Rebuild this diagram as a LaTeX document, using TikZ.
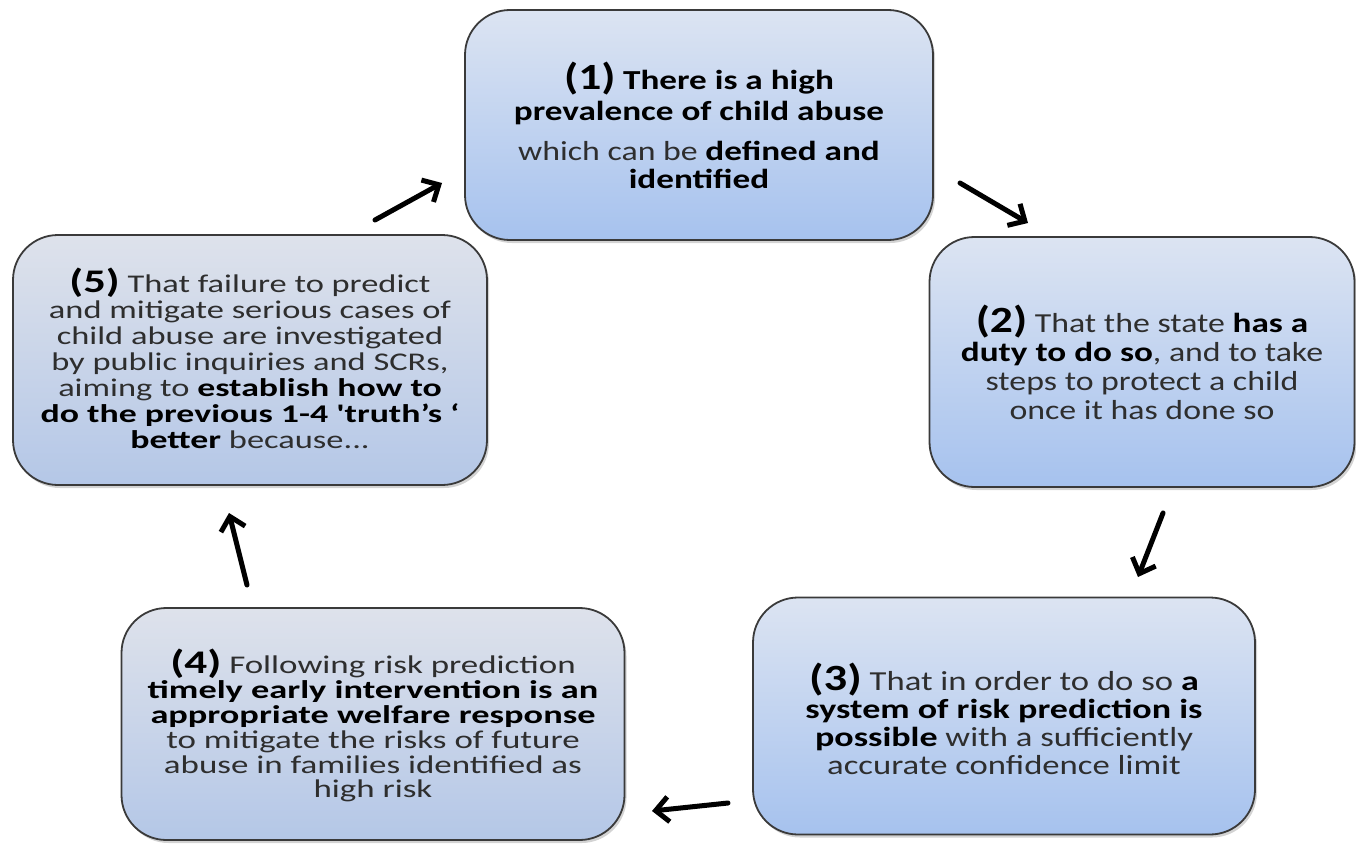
\documentclass[tikz,border=0pt]{standalone}
\usepackage{fontspec}
\setmainfont{Carlito}
\usepackage{graphicx}
\usetikzlibrary{arrows.meta,shadows}
\definecolor{txtgray}{HTML}{2E2E2E}
\definecolor{edgegray}{HTML}{3A3A3A}
\definecolor{topA}{HTML}{DCE4F2}
\definecolor{botA}{HTML}{A6C2EE}
\definecolor{topB}{HTML}{DEE2EB}
\definecolor{botB}{HTML}{B4C7E7}
\newcommand\stepno[2]{{\fontsize{#1}{#1}\selectfont\bfseries\color{black}(#2)}}
\newcommand\bxt[5]{\raisebox{-#5}[\height][\depth]{\scalebox{#1}[1]{\fontsize{#2}{#3}\selectfont\color{txtgray}\begin{tabular}{@{}c@{}}#4\end{tabular}}}}
\newcommand\bb[1]{\scalebox{1.04}[1]{\textbf{\color{black}#1}}}
\tikzset{
  stagebox/.style={draw=edgegray, line width=1.8pt, rounded corners=45pt, inner sep=0pt,
    drop shadow={shadow xshift=2pt, shadow yshift=-3pt, opacity=0.35}},
  stageA/.style={stagebox, top color=topA, bottom color=botA},
  stageB/.style={stagebox, top color=topB, bottom color=botB},
  cyc/.style={line width=5pt, line cap=round, -{Straight Barb[length=13pt,width=25pt,line width=5pt]}}
}
\begin{document}
\begin{tikzpicture}[x=1pt,y=-1pt]
\useasboundingbox (0,0) rectangle (1356,843);
\node[stageA, minimum width=468pt, minimum height=230pt] (b1) at (699,125)
  {\bxt{1.23}{27.5}{26}{\stepno{37}{1} \bb{There is a high}\\[4pt] \bb{prevalence of child abuse}\\[13pt] which can be \bb{defined and}\\ \bb{identified}}{4pt}};
\node[stageA, minimum width=425pt, minimum height=250pt] (b2) at (1142,362)
  {\bxt{1.23}{27.5}{29}{\stepno{37}{2} That the state \bb{has a}\\ \bb{duty to do so}, and to take\\ steps to protect a child\\ once it has done so}{5pt}};
\node[stageA, minimum width=502pt, minimum height=237pt] (b3) at (1004,716)
  {\bxt{1.26}{27.5}{28}{\stepno{37}{3} That in order to do so \bb{a}\\ \bb{system of risk prediction is}\\ \bb{possible} with a sufficiently\\ accurate confidence limit}{7pt}};
\node[stageB, minimum width=503pt, minimum height=232pt] (b4) at (373,724)
  {\bxt{1.37}{25.5}{23.5}{\stepno{33}{4} Following risk prediction\\ \bb{timely early intervention is an}\\ \bb{appropriate welfare response}\\ to mitigate the risks of future\\ abuse in families identified as\\ high risk}{3pt}};
\node[stageB, minimum width=474pt, minimum height=250pt] (b5) at (250,360)
  {\bxt{1.35}{25.5}{26}{\stepno{33}{5} That failure to predict\\ and mitigate serious cases of\\ child abuse are investigated\\ by public inquiries and SCRs,\\ aiming to \bb{establish how to}\\ \bb{do the previous 1-4 \textquotesingle truth's ‘}\\ \bb{better} because...}{2pt}};
\coordinate (a12s) at (960,183);
\coordinate (a12e) at (1028,223);
\coordinate (a23s) at (1163,513);
\coordinate (a23e) at (1138,577);
\coordinate (a34s) at (728,803);
\coordinate (a34e) at (652,811);
\coordinate (a45s) at (247,585);
\coordinate (a45e) at (229,513);
\coordinate (a51s) at (375,220);
\coordinate (a51e) at (442,183);
\draw[cyc] (a12s) -- (a12e);
\draw[cyc] (a23s) -- (a23e);
\draw[cyc] (a34s) -- (a34e);
\draw[cyc] (a45s) -- (a45e);
\draw[cyc] (a51s) -- (a51e);
\end{tikzpicture}
\end{document}
